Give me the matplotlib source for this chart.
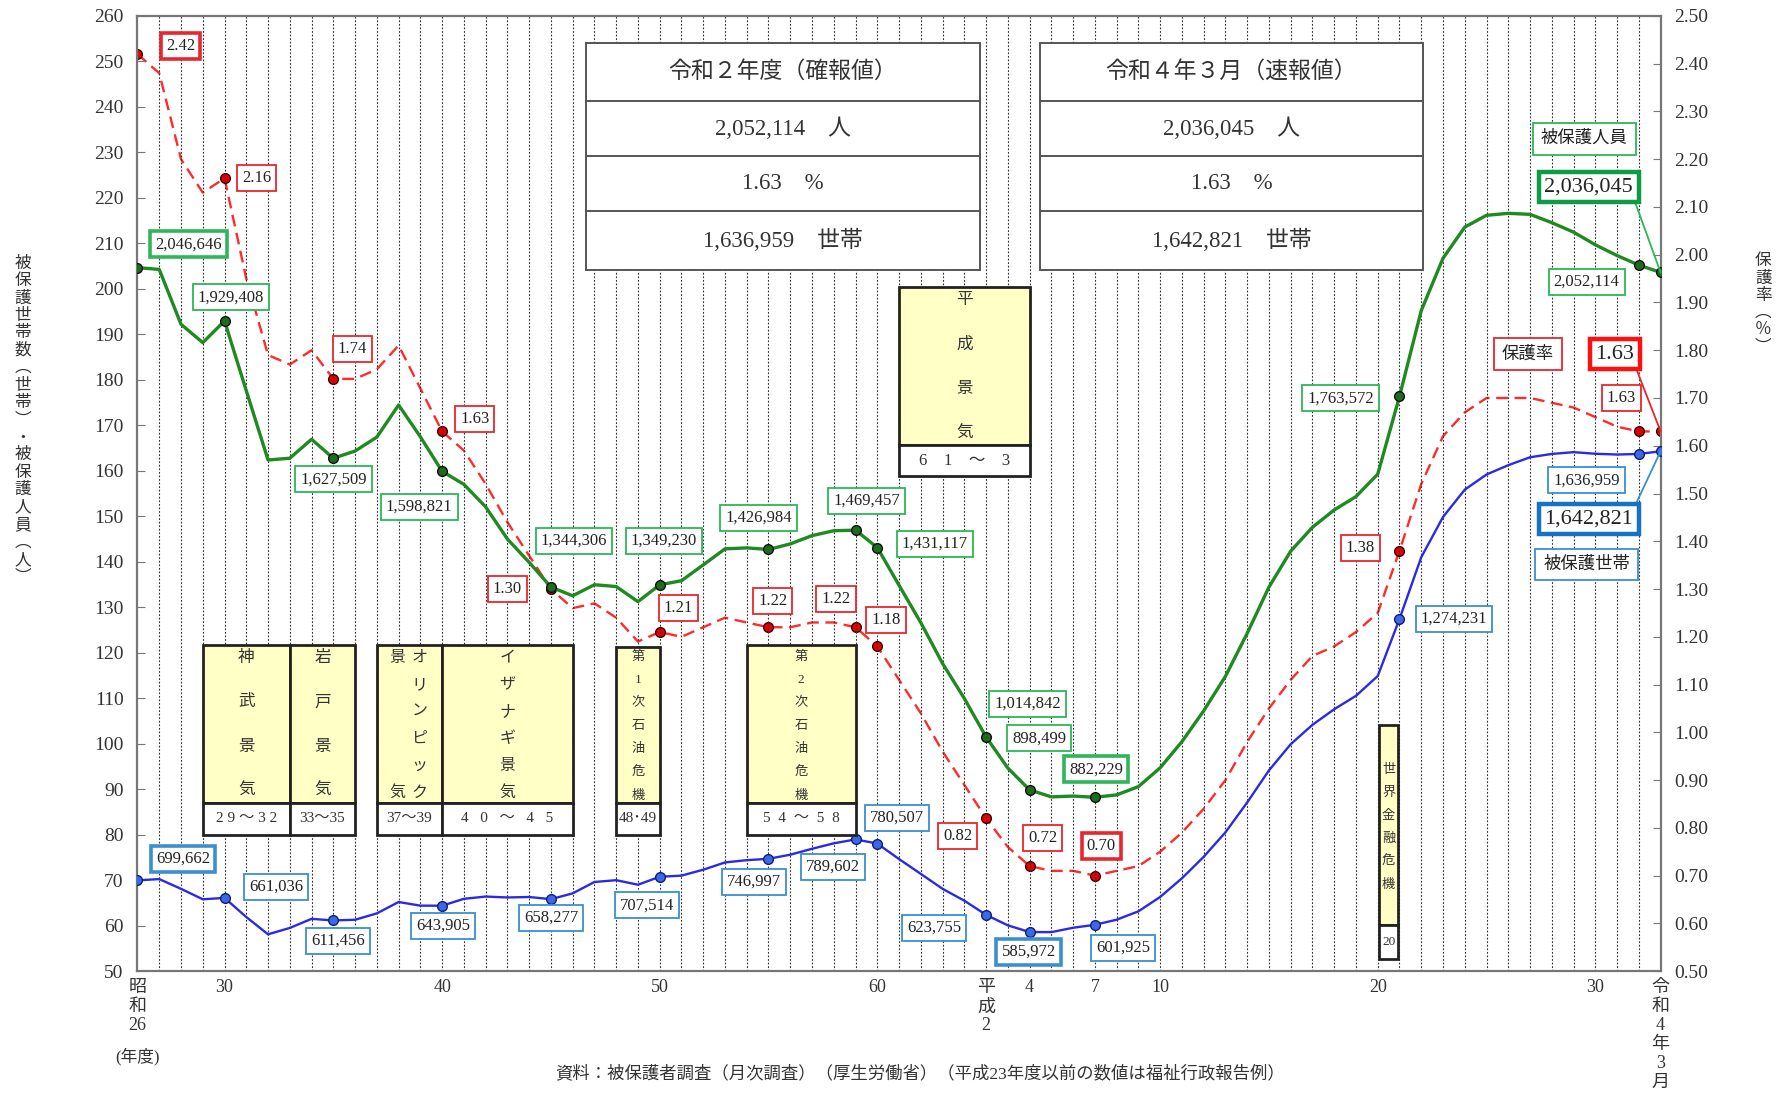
import numpy as np
import matplotlib.pyplot as plt
from matplotlib.patches import Rectangle

plt.rcParams['font.family'] = ['Liberation Serif', 'Noto Sans CJK JP']

# 昭和26年度 .. 令和2年度, then 令和4年3月
idx = np.arange(71)

persons = [204.6646, 204.26, 192.21, 188.17, 192.9408, 177.60, 162.37, 162.76, 166.92, 162.7509,
           164.34, 167.40, 174.46, 167.47, 159.8821, 157.01, 152.07, 145.00, 139.87, 134.4306,
           132.52, 134.95, 134.55, 131.23, 134.9230, 135.83, 139.31, 142.83, 143.05, 142.6984,
           143.92, 145.74, 146.82, 146.9457, 143.1117, 134.82, 126.61, 117.63, 109.95, 101.4842,
           94.64, 89.8499, 88.31, 88.49, 88.2229, 88.75, 90.56, 94.70, 100.45, 107.22,
           114.81, 124.27, 134.43, 142.34, 147.58, 151.39, 154.33, 159.26, 176.3572, 195.21,
           206.72, 213.57, 216.16, 216.59, 216.37, 214.54, 212.46, 209.68, 207.31, 205.2114, 203.6045]

households = [69.9662, 70.24, 68.1, 65.8, 66.1036, 61.9, 58.1, 59.5, 61.5, 61.1456,
              61.3, 62.7, 65.2, 64.4, 64.3905, 65.9, 66.4, 66.2, 66.3, 65.8277,
              67.1, 69.6, 70.0, 69.0, 70.7514, 71.0, 72.3, 73.9, 74.4, 74.6997,
              75.6, 76.9, 78.1, 78.9602, 78.0507, 74.64, 71.38, 68.10, 65.49, 62.3755,
              60.07, 58.5972, 58.58, 59.54, 60.1925, 61.31, 63.15, 66.31, 70.41, 75.13,
              80.52, 87.09, 94.13, 99.89, 104.15, 107.58, 110.53, 114.88, 127.4231, 141.00,
              149.84, 155.85, 159.18, 161.23, 162.97, 163.70, 164.09, 163.74, 163.57, 163.6959, 164.2821]

rates = [2.42, 2.38, 2.20, 2.13, 2.16, 1.95, 1.79, 1.77, 1.80, 1.74,
         1.74, 1.76, 1.81, 1.72, 1.63, 1.59, 1.52, 1.44, 1.37, 1.30,
         1.26, 1.27, 1.24, 1.19, 1.21, 1.20, 1.22, 1.24, 1.23, 1.22,
         1.22, 1.23, 1.23, 1.22, 1.18, 1.11, 1.04, 0.96, 0.89, 0.82,
         0.76, 0.72, 0.71, 0.71, 0.70, 0.71, 0.72, 0.75, 0.79, 0.84,
         0.90, 0.98, 1.05, 1.11, 1.16, 1.18, 1.21, 1.25, 1.38, 1.52,
         1.62, 1.67, 1.70, 1.70, 1.70, 1.69, 1.68, 1.66, 1.64, 1.63, 1.63]

marked = [0, 4, 9, 14, 19, 24, 29, 33, 34, 39, 41, 44, 58, 69, 70]

xtick_pos = [0, 4, 14, 24, 34, 39, 41, 44, 47, 57, 67, 70]
xtick_lab = ['昭\n和\n26', '30', '40', '50', '60', '平\n成\n2', '4', '7', '10', '20', '30',
             '令\n和\n4\n年\n3\n月']

GREEN, GREEN_EC = '#1f8a22', '#2fb55a'
BLUE, BLUE_EC = '#2a2ae6', '#3a8fd0'
RED, RED_EC = '#ff2b2b', '#e8262e'
YELLOW = '#ffffc6'
TXT = '#222222'

fig = plt.figure(figsize=(17.81, 10.95), dpi=100, facecolor='white')
ax = fig.add_axes([0.0772, 0.1131, 0.8552, 0.8724])
ax2 = ax.twinx()
ax.set_zorder(ax2.get_zorder() + 1)
ax.patch.set_visible(False)

# yearly dotted guides
ax.vlines(np.arange(1, 70), 50, 260, colors='#333333', linestyles=(0, (1.6, 1.6)), lw=0.8, zorder=0)

ax.plot(idx, persons, color=GREEN, lw=2.4, marker='o', markevery=marked, ms=7,
        mfc='#1d6b1d', mec='#111111', mew=1.0, zorder=3)
ax.plot(idx, households, color=BLUE, lw=1.7, marker='o', markevery=marked, ms=7,
        mfc='#3a68e8', mec='#10206a', mew=1.0, zorder=3)
ax2.plot(idx, rates, color=RED, lw=1.7, ls=(0, (5, 2.8)), marker='o', markevery=marked, ms=7,
         mfc='#e80000', mec='#3a0000', mew=1.0)

ax.set_xlim(0, 70)
ax.set_ylim(50, 260)
ax2.set_ylim(0.5, 2.5)
ax.set_yticks(np.arange(50, 261, 10))
ax2.set_yticks(np.arange(0.5, 2.51, 0.1))
ax2.set_yticklabels([f'{v:.2f}' for v in np.arange(0.5, 2.51, 0.1)])
ax.set_xticks(xtick_pos)
ax.set_xticklabels(xtick_lab, fontsize=13, color='#333', linespacing=1.15, va='top')
ax.tick_params(axis='x', length=0, pad=6)
ax.tick_params(axis='y', direction='in', length=6, color='#777', labelsize=14, labelcolor='#333', pad=10)
ax2.tick_params(axis='y', direction='in', length=6, color='#777', labelsize=14, labelcolor='#333', pad=10)
for s in ax.spines.values():
    s.set_color('#777777')
    s.set_linewidth(1.6)
for s in ax2.spines.values():
    s.set_visible(False)


def label(x, y, s, ec, lw=1.3, fs=12, pad=0.3):
    ax.text(x, y, s, ha='center', va='center', fontsize=fs, color=TXT, zorder=9,
            bbox=dict(boxstyle=f'square,pad={pad}', fc='white', ec=ec, lw=lw))


def people(v):
    return f'{round(v * 10000):,}'


green_labels = [(0, 2.35, 209.8, 2.6), (4, 4.3, 198.1, 1.3), (9, 9.0, 158.1, 1.3),
                (14, 12.95, 152.1, 1.3), (19, 20.05, 144.6, 1.3), (24, 24.2, 144.6, 1.3),
                (29, 28.55, 149.6, 1.3), (33, 33.5, 153.4, 1.3), (34, 36.65, 143.9, 1.3),
                (39, 40.9, 108.7, 1.3), (41, 41.45, 101.2, 1.3), (44, 44.05, 94.4, 2.6),
                (58, 55.3, 175.9, 1.3), (69, 66.6, 201.6, 1.3)]
for i, x, y, lw in green_labels:
    label(x, y, people(persons[i]), GREEN_EC, lw=lw)

blue_labels = [(0, 2.09, 74.7, 2.6), (4, 6.37, 68.5, 1.3), (9, 9.2, 56.7, 1.3),
               (14, 14.05, 60.0, 1.3), (19, 19.0, 61.7, 1.3), (24, 23.4, 64.5, 1.3),
               (29, 28.35, 69.7, 1.3), (33, 31.95, 73.0, 1.3), (34, 34.9, 83.7, 1.3),
               (39, 36.6, 59.5, 1.3), (41, 40.95, 54.2, 2.6), (44, 45.3, 55.2, 1.3),
               (58, 60.5, 127.4, 1.3), (69, 66.6, 157.9, 1.3)]
for i, x, y, lw in blue_labels:
    label(x, y, people(households[i]), BLUE_EC, lw=lw)

red_labels = [(0, 1.98, 253.3, 2.6), (4, 5.48, 224.3, 1.3), (9, 9.87, 186.8, 1.3),
              (14, 15.5, 171.3, 1.3), (19, 17.0, 133.9, 1.3), (24, 24.85, 129.9, 1.3),
              (29, 29.2, 131.4, 1.3), (33, 32.1, 131.9, 1.3), (34, 34.4, 127.2, 1.3),
              (39, 37.7, 79.7, 1.3), (41, 41.6, 79.2, 1.3), (44, 44.3, 77.5, 2.6),
              (58, 56.2, 143.1, 1.3), (69, 68.2, 175.9, 1.3)]
for i, x, y, lw in red_labels:
    label(x, y, f'{rates[i]:.2f}', RED_EC, lw=lw)

# latest month, with leader lines to the last points
big = dict(fontsize=16, color=TXT, ha='center', va='center', zorder=9, textcoords='data')
ax.annotate(people(persons[-1]), xy=(idx[-1], persons[-1]), xytext=(66.7, 222.3),
            bbox=dict(boxstyle='square,pad=0.25', fc='white', ec='#0f9a45', lw=3.2),
            arrowprops=dict(arrowstyle='-', color=GREEN_EC, lw=1.3, relpos=(1, 0), shrinkA=0, shrinkB=0), **big)
ax.annotate(f'{rates[-1]:.2f}', xy=(idx[-1], rates[-1]), xycoords=ax2.transData, xytext=(67.9, 185.6),
            bbox=dict(boxstyle='square,pad=0.25', fc='white', ec='#ff1010', lw=3.2),
            arrowprops=dict(arrowstyle='-', color=RED_EC, lw=1.3, relpos=(1, 0), shrinkA=0, shrinkB=0), **big)
ax.annotate(people(households[-1]), xy=(idx[-1], households[-1]), xytext=(66.7, 149.4),
            bbox=dict(boxstyle='square,pad=0.25', fc='white', ec='#1672c4', lw=3.2),
            arrowprops=dict(arrowstyle='-', color=BLUE_EC, lw=1.3, relpos=(1, 1), shrinkA=0, shrinkB=0), **big)

label(66.5, 233.0, '被保護人員', GREEN_EC, lw=1.3, fs=12.5, pad=0.45)
label(63.9, 185.6, '保護率', RED_EC, lw=1.3, fs=12.5, pad=0.45)
label(66.6, 139.4, '被保護世帯', BLUE_EC, lw=1.3, fs=12.5, pad=0.45)


# summary tables
def table(x0, x1, rows):
    edges = [254.0, 241.3, 229.3, 217.1, 204.2]
    ax.add_patch(Rectangle((x0, edges[-1]), x1 - x0, edges[0] - edges[-1], fc='white',
                           ec='#555555', lw=1.4, zorder=7))
    for e in edges[1:-1]:
        ax.plot([x0, x1], [e, e], color='#555555', lw=1.4, zorder=7)
    for k, s in enumerate(rows):
        ax.text((x0 + x1) / 2, (edges[k] + edges[k + 1]) / 2, s, ha='center', va='center',
                fontsize=16.5, color='#333', zorder=8)


table(20.63, 38.7, ['令和２年度（確報値）', f'{people(persons[69])}　人',
                    f'{rates[69]:.2f}　%', f'{people(households[69])}　世帯'])
table(41.46, 59.1, ['令和４年３月（速報値）', f'{people(persons[70])}　人',
                    f'{rates[70]:.2f}　%', f'{people(households[70])}　世帯'])


# business cycle boxes
def boom(x0, x1, top, mid, bottom, date, date_fs=11):
    ax.add_patch(Rectangle((x0, mid), x1 - x0, top - mid, fc=YELLOW, ec='#222', lw=2.0, zorder=7))
    ax.add_patch(Rectangle((x0, bottom), x1 - x0, mid - bottom, fc='white', ec='#222', lw=2.0, zorder=7))
    ax.text((x0 + x1) / 2, (mid + bottom) / 2, date, ha='center', va='center', fontsize=date_fs,
            color='#333', zorder=8)


def column(x, top, bottom, chars, fs):
    for y, c in zip(np.linspace(top, bottom, len(chars)), chars):
        ax.text(x, y, c, ha='center', va='center', fontsize=fs, color='#333', zorder=8)


boom(3, 7, 121.8, 87.0, 80.0, '2 9 ～ 3 2')
column(5, 118.8, 89.6, '神武景気', 12)
boom(7, 10, 121.8, 87.0, 80.0, '33～35')
column(8.5, 118.8, 89.6, '岩戸景気', 12)
boom(11, 14, 121.8, 87.0, 80.0, '37～39')
column(12.95, 118.8, 89.2, 'オリンピック', 11.5)
column(11.95, 118.8, 89.2, '景気', 11.5)
boom(14, 20, 121.8, 87.0, 80.0, '4   0   ～   4   5')
column(17, 118.8, 89.2, 'イザナギ景気', 11.5)
boom(22, 24, 121.2, 87.0, 80.0, '48･49')
column(23, 119.0, 88.6, '第1次石油危機', 9.5)
boom(28, 33, 121.8, 87.0, 80.0, '5  4  ～  5  8')
column(30.5, 119.0, 88.6, '第2次石油危機', 9.5)
boom(35, 41, 200.4, 165.6, 158.8, '6    1    ～    3', date_fs=12)
column(38, 197.6, 168.2, '平成景気', 12)
boom(57.05, 57.95, 104.2, 60.1, 52.6, '20', date_fs=9.5)
column(57.5, 94.3, 68.9, '世界金融危機', 9.5)

# axis titles and notes
fig.text(0.0128, 0.616, '\n'.join('被保護世帯数︵世帯︶・被保護人員︵人︶'), ha='center', va='center',
         fontsize=12, color='#333', linespacing=1.12)
fig.text(0.990, 0.722, '\n'.join('保護率︵％︶'), ha='center', va='center',
         fontsize=12, color='#333', linespacing=1.1)
fig.text(0.0772, 0.0353, '(年度)', ha='center', va='center', fontsize=12, color='#333')
fig.text(0.5166, 0.0197, '資料：被保護者調査（月次調査）（厚生労働省）（平成23年度以前の数値は福祉行政報告例）',
         ha='center', va='center', fontsize=12.5, color='#333')

fig.savefig('out.png', dpi=100, facecolor='white')
